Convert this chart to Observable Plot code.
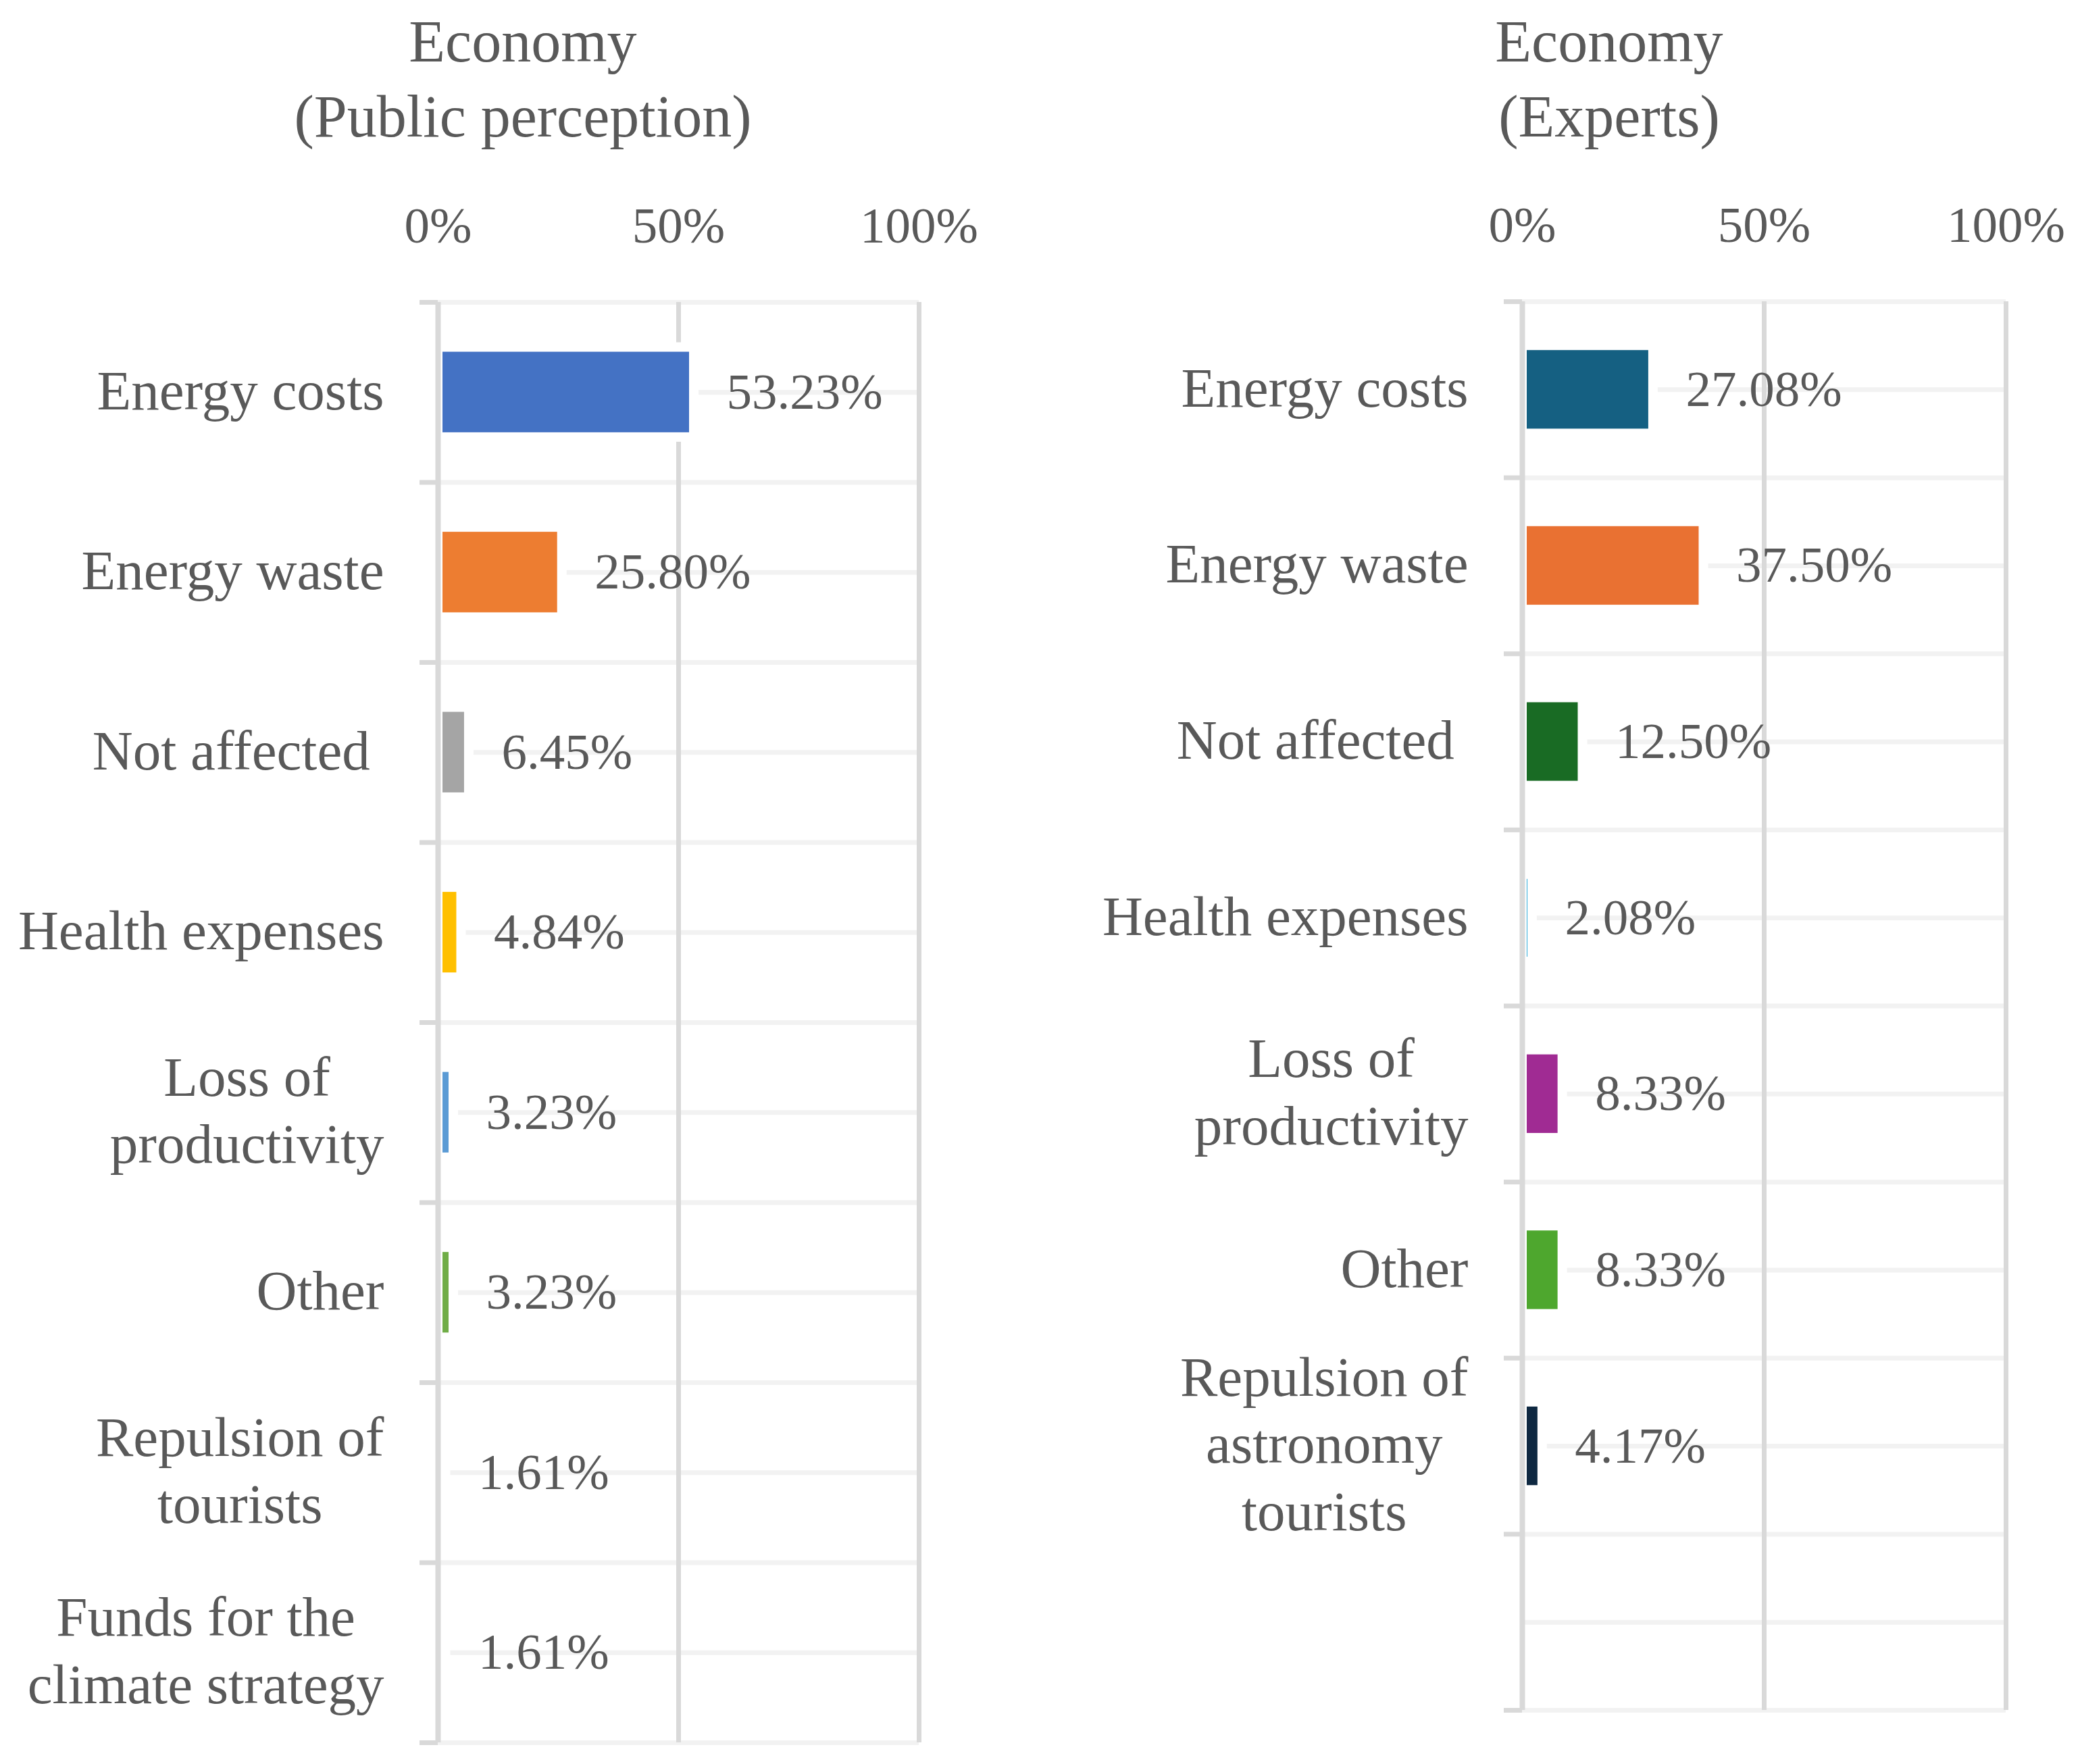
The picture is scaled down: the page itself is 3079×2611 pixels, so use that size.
<!DOCTYPE html>
<html>
<head>
<meta charset="utf-8">
<script src="https://cdn.jsdelivr.net/npm/d3@7"></script>
<script src="https://cdn.jsdelivr.net/npm/@observablehq/plot@0.6"></script>
<style>
  html, body { margin: 0; padding: 0; background: #ffffff; }
  #root { position: relative; width: 3079px; height: 2611px; background: #ffffff; overflow: hidden; }
  .title { position: absolute; width: 1000px; text-align: center; font-family: "Liberation Serif", serif; font-size: 88px; line-height: 111px; color: #595959; white-space: pre; }
  .panel { position: absolute; top: 0; }
</style>
</head>
<body>
<div id="root"></div>
<script>
// ---- data ----
const leftTitle = "Economy\n(Public perception)";
const leftCategories = ["Energy costs", "Energy waste", "Not affected\u00a0", "Health expenses", "Loss of\nproductivity", "Other", "Repulsion of\ntourists", "Funds for the\nclimate strategy"];
const leftValues = [53.23, 25.80, 6.45, 4.84, 3.23, 3.23, 1.61, 1.61];
const leftColors = ["#4472C4", "#ED7D31", "#A5A5A5", "#FFC000", "#5B9BD5", "#70AD47", "#264478", "#9E480E"];

const rightTitle = "Economy\n(Experts)";
const rightCategories = ["Energy costs", "Energy waste", "Not affected\u00a0", "Health expenses", "Loss of\nproductivity", "Other", "Repulsion of\nastronomy\ntourists"];
const rightValues = [27.08, 37.50, 12.50, 2.08, 8.33, 8.33, 4.17];
const rightColors = ["#156082", "#E97132", "#196B24", "#0F9ED5", "#A02B93", "#4EA72E", "#0E2841"];

const xTicks = [0, 50, 100];
const rowCount = 8;

// ---- drawing ----
const TEXT = "#595959";
const AXIS = "#D9D9D9";
const GRID = "#F2F2F2";

function panel(categories, values, colors, layout) {
  const rows = categories.map((c, i) => ({cat: c, value: values[i], color: colors[i], pos: i}));
  const boundaries = d3.range(0, rowCount + 1);
  const halves = d3.range(0, rowCount * 2 + 1).map(k => k / 2);
  return Plot.plot({
    width: layout.width,
    height: 2611,
    marginLeft: layout.marginLeft,
    marginRight: layout.marginRight,
    marginTop: layout.marginTop,
    marginBottom: layout.marginBottom,
    style: {fontFamily: "'Liberation Serif', serif", fontSize: "80px", color: TEXT, background: "white"},
    x: {domain: [0, 100], axis: null, label: null},
    y: {domain: [0, rowCount], reverse: true, axis: null, label: null},
    color: {type: "identity"},
    marks: [
      Plot.ruleY(halves, {stroke: GRID, strokeWidth: 7}),
      Plot.ruleX(xTicks.filter(d => d > 0), {stroke: AXIS, strokeWidth: 7}),
      Plot.rectX(rows, {x1: 0, x2: "value", y1: d => d.pos + 0.25, y2: d => d.pos + 0.75, fill: d => d.color, stroke: "white", strokeWidth: 14}),
      Plot.ruleX([0], {stroke: AXIS, strokeWidth: 8}),
      Plot.axisY({anchor: "left", ticks: boundaries, tickSize: 27, tickFormat: () => "", label: null, stroke: AXIS, strokeWidth: 7}),
      Plot.axisX({anchor: "top", ticks: xTicks, tickSize: 0, tickPadding: 89, label: null, tickFormat: d => d + "%", fill: TEXT, fontSize: 75}),
      Plot.text(rows, {x: "value", y: d => d.pos + 0.5, text: d => d.value.toFixed(2) + "%", textAnchor: "start", dx: 48, fill: TEXT, fontSize: 75}),
      Plot.text(rows, {frameAnchor: "left", y: d => d.pos + 0.5, text: "cat", textAnchor: "end", dx: -80, dy: -7, lineHeight: 1.2, fill: TEXT, fontSize: 83})
    ]
  });
}

const root = document.getElementById("root");

function addTitle(text, cx) {
  const d = document.createElement("div");
  d.className = "title";
  d.textContent = text;
  d.style.left = (cx - 500) + "px";
  d.style.top = "6px";
  root.appendChild(d);
}

const leftSvg = panel(leftCategories, leftValues, leftColors, {width: 1540, marginLeft: 648, marginRight: 180, marginTop: 447, marginBottom: 32});
leftSvg.classList.add("panel");
leftSvg.style.left = "0px";
root.appendChild(leftSvg);

const rightSvg = panel(rightCategories, rightValues, rightColors, {width: 1539, marginLeft: 713, marginRight: 110, marginTop: 446, marginBottom: 80});
rightSvg.classList.add("panel");
rightSvg.style.left = "1540px";
root.appendChild(rightSvg);

addTitle(leftTitle, 774);
addTitle(rightTitle, 2382);

// center the lines of multi-line category labels (as in the original)
for (const svg of [leftSvg, rightSvg]) {
  for (const t of svg.querySelectorAll("text")) {
    const spans = Array.from(t.querySelectorAll("tspan"));
    if (spans.length > 1) {
      const w = Math.max(...spans.map(s => s.getComputedTextLength()));
      const base = +(t.getAttribute("x") || 0);
      t.setAttribute("text-anchor", "middle");
      for (const s of spans) s.setAttribute("x", base - w / 2);
    }
  }
}
</script>
</body>
</html>
